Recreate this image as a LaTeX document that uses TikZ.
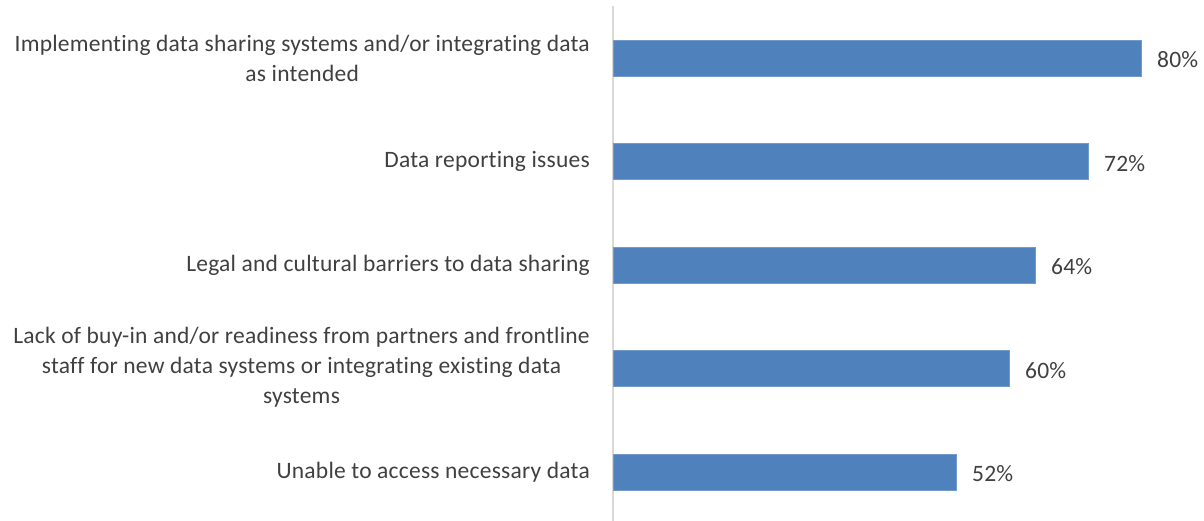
\documentclass[tikz,border=0pt]{standalone}
\usepackage{fontspec}
\setmainfont[Ligatures={NoCommon},LetterSpace=1.0]{Carlito}
\definecolor{barblue}{HTML}{4F81BD}
\definecolor{txtgray}{HTML}{404040}
\definecolor{axisgray}{HTML}{D9D9D9}
\tikzset{
  cat/.style={anchor=east,align=center,inner sep=0pt,text=txtgray,font=\fontsize{23.5}{30}\selectfont},
  val/.style={anchor=west,inner sep=0pt,text=txtgray,font=\fontsize{23.5}{30}\selectfont},
  bar/.style={fill=barblue,draw=barblue!80!white,line width=.6pt}
}
\begin{document}
\begin{tikzpicture}[x=1pt,y=-1pt]
\useasboundingbox (0,0) rectangle (1204,521);

\draw[axisgray,line width=2pt] (612.5,6) -- (612.5,521);

\draw[bar] (613,40) rectangle (1141,76);
\draw[bar] (613,143.5) rectangle (1088,179.5);
\draw[bar] (613,247) rectangle (1035.4,283);
\draw[bar] (613,350.5) rectangle (1009,386.5);
\draw[bar] (613,454) rectangle (956.2,490);

\node[cat] (c1) at (590,58) {Implementing data sharing systems and/or integrating data\\as intended};
\node[cat] (c2) at (590,161.5) {Data reporting issues};
\node[cat] (c3) at (590,265) {Legal and cultural barriers to data sharing};
\node[cat] (c4) at (590,367.5) {Lack of buy-in and/or readiness from partners and frontline\\staff for new data systems or integrating existing data\\systems};
\node[cat] (c5) at (590,472) {Unable to access necessary data};

\node[val] (v1) at (1157,60) {80\%};
\node[val] (v2) at (1104,163.5) {72\%};
\node[val] (v3) at (1051,267) {64\%};
\node[val] (v4) at (1025,370.5) {60\%};
\node[val] (v5) at (972,474) {52\%};
\end{tikzpicture}
\end{document}
